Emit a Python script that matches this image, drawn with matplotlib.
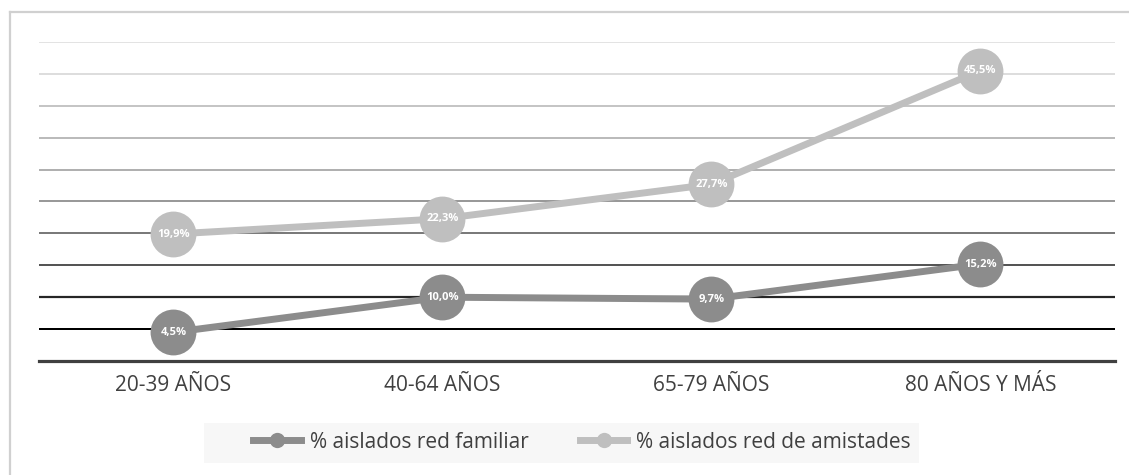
import matplotlib.pyplot as plt
from matplotlib.lines import Line2D
from matplotlib.patches import Rectangle

# === Data ===
grupos = ["20-39 AÑOS", "40-64 AÑOS", "65-79 AÑOS", "80 AÑOS Y MÁS"]
red_familiar = [4.5, 10.0, 9.7, 15.2]
red_amistades = [19.9, 22.3, 27.7, 45.5]

# gridline colours, from 5 up to 50
grid_vals = [5, 10, 15, 20, 25, 30, 35, 40, 45, 50]
grid_colors = ["#000000", "#262626", "#555555", "#7a7a7a", "#999999",
               "#a8a8a8", "#b4b4b4", "#bfbfbf", "#d2d2d2", "#dadada"]
grid_widths = [2.0, 2.2, 2.0, 2.0, 2.0, 1.8, 1.8, 1.8, 1.5, 1.5]

FONT = ["Open Sans", "DejaVu Sans"]
plt.rcParams["font.family"] = FONT

fig = plt.figure(figsize=(11.29, 4.75), dpi=100)
ax = fig.add_axes([0.0345, 0.24, 0.953, 0.6716])

x = list(range(len(grupos)))

for v, c, w in zip(grid_vals, grid_colors, grid_widths):
    ax.axhline(v, color=c, lw=w * 0.72, zorder=1)
ax.axhline(0, color="#404040", lw=2.3, zorder=1, clip_on=False)

series = [
    (red_familiar, "#8c8c8c", "% aislados red familiar"),
    (red_amistades, "#bfbfbf", "% aislados red de amistades"),
]
for vals, col, lab in series:
    ax.plot(x, vals, color=col, lw=5, marker="o", markersize=33,
            markeredgewidth=0, solid_capstyle="butt", zorder=3, label=lab)
    for xi, v in zip(x, vals):
        ax.text(xi, v, f"{v:.1f}".replace(".", ",") + "%", ha="center",
                va="center", color="white", fontsize=8, fontweight="bold",
                zorder=4)

ax.set_xlim(-0.5, len(grupos) - 0.5)
ax.set_ylim(0, 50)
ax.set_xticks(x)
ax.set_xticklabels(grupos, fontsize=15, color="#404040")
ax.tick_params(axis="x", length=0, pad=10)
ax.set_yticks([])
for s in ax.spines.values():
    s.set_visible(False)
ax.patch.set_alpha(0)

# outer frame (left and top edges)
fig.add_artist(Line2D([10 / 1129, 10 / 1129], [0, 1 - 12 / 475],
                      transform=fig.transFigure, color="#d0d0d0", lw=1.6))
fig.add_artist(Line2D([10 / 1129, 1], [1 - 12 / 475, 1 - 12 / 475],
                      transform=fig.transFigure, color="#d0d0d0", lw=1.6))

# legend background
fig.add_artist(Rectangle((204 / 1129, 1 - 463 / 475), 715 / 1129, 40 / 475,
                         transform=fig.transFigure, facecolor="#f7f7f7",
                         edgecolor="none", zorder=0))

handles = [Line2D([], [], color=col, lw=5, marker="o", markersize=11,
                  markeredgewidth=0) for _, col, _ in series]
fig.legend(handles, [lab for _, _, lab in series], loc="center",
           bbox_to_anchor=(582 / 1129, 1 - 442 / 475), ncol=2, frameon=False,
           fontsize=15, handlelength=2.3, handletextpad=0.43,
           columnspacing=2.45, labelcolor="#404040")

fig.savefig("out.png", dpi=100)
